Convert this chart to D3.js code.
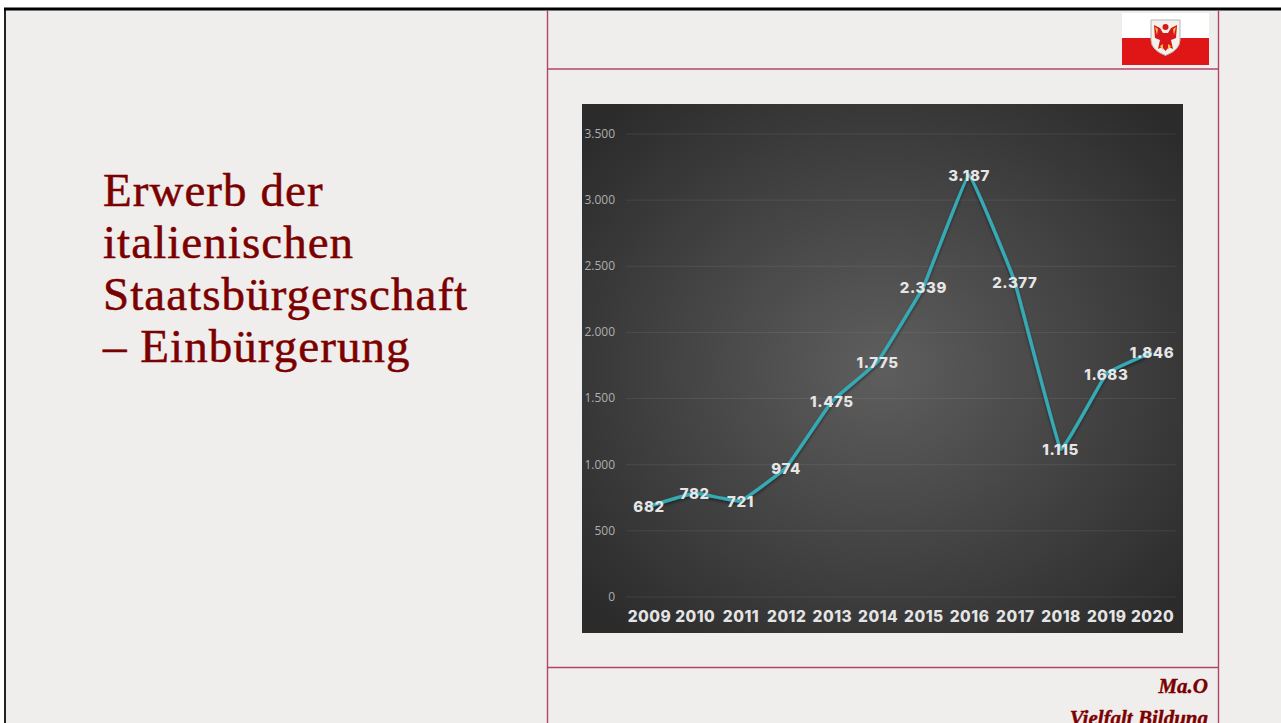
<!DOCTYPE html>
<html><head><meta charset="utf-8">
<script src="https://cdn.jsdelivr.net/npm/d3@7"></script>
<style>html,body{margin:0;padding:0;background:#fff;overflow:hidden}svg{display:block}</style>
</head><body><svg id="c" width="1281" height="723"></svg>
<script>
const years=[2009,2010,2011,2012,2013,2014,2015,2016,2017,2018,2019,2020];
const values=[682,782,721,974,1475,1775,2339,3187,2377,1115,1683,1846];
const yTicks=[0,500,1000,1500,2000,2500,3000,3500];
const titleLines=["Erwerb der","italienischen","Staatsbürgerschaft","– Einbürgerung"];
const footerLines=["Ma.O","Vielfalt Bildung"];
const deLocale=d3.formatLocale({decimal:",",thousands:".",grouping:[3],currency:["","€"]});
const fmt=deLocale.format(",d");

const svg=d3.select("#c");
const defs=svg.append("defs");
const rg=defs.append("radialGradient").attr("id","bg").attr("cx","0.5").attr("cy","0.5").attr("r","0.66");
rg.append("stop").attr("offset","0").attr("stop-color","#5e5e5e");
rg.append("stop").attr("offset","1").attr("stop-color","#2b2b2b");
const f=defs.append("filter").attr("id","shadow").attr("x","-10%").attr("y","-10%").attr("width","120%").attr("height","130%");
f.append("feDropShadow").attr("dx",0).attr("dy",2).attr("stdDeviation",1.5).attr("flood-color","#000").attr("flood-opacity",0.45);
defs.append("filter").attr("id","soft").append("feGaussianBlur").attr("stdDeviation",0.5);

// slide
svg.append("rect").attr("x",5).attr("y",9).attr("width",1276).attr("height",714).attr("fill","#f0eeec");
svg.append("line").attr("x1",5).attr("y1",723).attr("x2",5).attr("y2",9).attr("stroke","#222").attr("stroke-width",2);
svg.append("line").attr("x1",4).attr("y1",9).attr("x2",1281).attr("y2",9).attr("stroke","#000").attr("stroke-width",3);
const rule="#b0446c";
[[547.5,10,547.5,723],[1218.5,10,1218.5,723],[548,69,1218,69],[548,667.5,1218,667.5]].forEach(l=>
  svg.append("line").attr("x1",l[0]).attr("y1",l[1]).attr("x2",l[2]).attr("y2",l[3]).attr("stroke",rule).attr("stroke-width",1.4));

// title
svg.append("g").selectAll("text").data(titleLines).join("text")
  .attr("x",103).attr("y",(d,i)=>205.5+i*52)
  .attr("font-family","'Liberation Serif',serif").attr("font-size",47).attr("letter-spacing",1.05)
  .attr("fill","#7b0000").attr("stroke","#7b0000").attr("stroke-width",0.5)
  .text(d=>d);

// footer
svg.append("g").selectAll("text").data(footerLines).join("text")
  .attr("x",1208).attr("y",(d,i)=>693+i*32).attr("text-anchor","end")
  .attr("font-family","'Liberation Serif',serif").attr("font-style","italic").attr("font-weight","bold")
  .attr("font-size",21).attr("fill","#7b0000").attr("stroke","#7b0000").attr("stroke-width",0.4).text(d=>d);

// flag
const flag=svg.append("g").attr("filter","url(#soft)");
flag.append("rect").attr("x",1122).attr("y",13).attr("width",87).attr("height",26).attr("fill","#fff");
flag.append("rect").attr("x",1122).attr("y",38).attr("width",87).attr("height",27).attr("fill","#e01414");
flag.append("path").attr("d","M1151,20H1180V40Q1180,50 1165.5,55.500Q1151,50 1151,40Z").attr("fill","#f4f1ea").attr("stroke","#b5b5b5");
flag.append("path").attr("d","M1154,25L1160,28L1163,33H1168L1171,28L1177,25L1176,38L1171,40L1173,49L1169,47L1165.500,51L1162,47L1158,49L1160,40L1155,38Z").attr("fill","#d8141c");
flag.append("circle").attr("cx",1165.5).attr("cy",27).attr("r",3).attr("fill","#d8141c");
flag.append("path").attr("d","M1155,27L1158,29L1157,35ZM1176,27L1173,29L1174,35ZM1160,46L1163,44L1163,50ZM1171,46L1168,44L1168,50Z").attr("fill","#f0c040");

// chart
const panel={x:582,y:104,w:601,h:529};
svg.append("rect").attr("x",panel.x).attr("y",panel.y).attr("width",panel.w).attr("height",panel.h).attr("fill","url(#bg)");
const x=d3.scalePoint().domain(years).range([649,1152]);
const y=d3.scaleLinear().domain([0,3500]).range([596.5,133.5]);

const yAxis=svg.append("g").attr("transform","translate(626,0)")
  .call(d3.axisLeft(y).tickValues(yTicks).tickFormat(fmt).tickSize(-550).tickPadding(11));
yAxis.select(".domain").remove();
yAxis.selectAll("line").attr("stroke","#fff").attr("stroke-opacity",0.08);
yAxis.selectAll("text").attr("fill","#aeaeae").attr("font-family","'Open Sans',sans-serif").attr("font-size",12);

const xAxis=svg.append("g").attr("transform","translate(0,597)")
  .call(d3.axisBottom(x).tickSize(0).tickPadding(14));
xAxis.select(".domain").remove();
xAxis.selectAll("text").attr("fill","#e4e4e4").attr("font-family","Inter,sans-serif").attr("font-weight",800).attr("font-size",15.500).attr("letter-spacing",0.5);

const line=d3.line().x((d,i)=>x(years[i])).y(d=>y(d)).curve(d3.curveCardinal.tension(0.8));
svg.append("path").datum(values).attr("d",line).attr("fill","none").attr("stroke","#35aab5").attr("stroke-width",3.4).attr("stroke-linejoin","round").attr("filter","url(#shadow)");

svg.append("g").selectAll("text").data(values).join("text")
  .attr("x",(d,i)=>x(years[i])).attr("y",d=>y(d)+6).attr("text-anchor","middle")
  .attr("fill","#e6e6e6").attr("font-family","Inter,sans-serif").attr("font-weight",800).attr("font-size",15).attr("letter-spacing",0.6)
  .text(fmt);
</script></body></html>
